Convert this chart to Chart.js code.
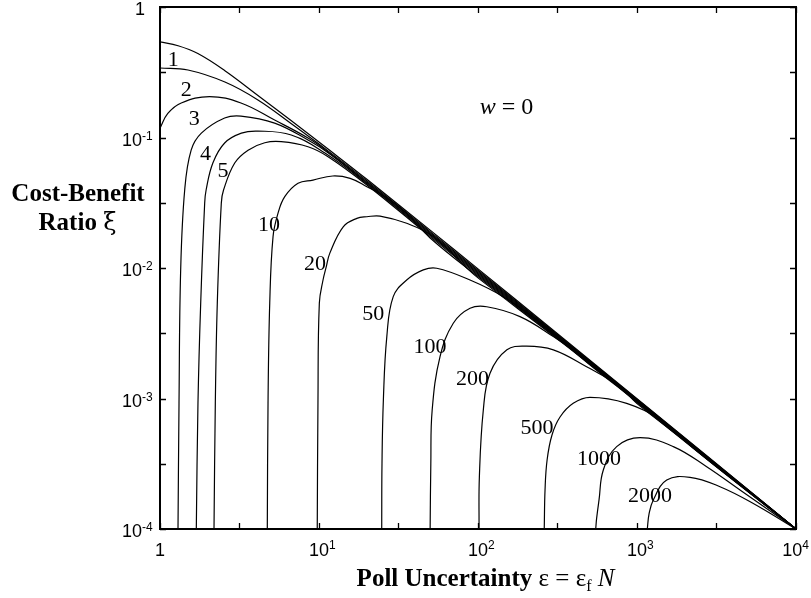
<!DOCTYPE html>
<html>
<head>
<meta charset="utf-8">
<script src="https://cdn.jsdelivr.net/npm/chart.js@4.4.1/dist/chart.umd.min.js"></script>
<style>
  html, body { margin: 0; padding: 0; background: #fff; }
</style>
</head>
<body>
<canvas id="chart" width="811" height="598"></canvas>
<script>
// =========================================
// DATA - cost-benefit ratio xi vs poll uncertainty eps (w = 0)
// =========================================

// top envelope (no label)
const epsTop = [1, 1.3, 1.73, 2.56, 4.13, 6.67, 11.4, 20, 50, 100, 300, 1000, 3000, 10000];
const xiTop = [0.54, 0.505, 0.44, 0.325, 0.21, 0.135, 0.0816, 0.0478, 0.0195, 0.00985, 0.0033, 0.000995, 0.000333, 0.0001];

const eps1 = [1, 1.5, 2.56, 4.13, 6.67, 11.4, 20, 50, 100, 300, 1000, 3000, 10000];
const xi1 = [0.341, 0.329, 0.266, 0.194, 0.128, 0.079, 0.0466, 0.0190, 0.0096, 0.00325, 0.000988, 0.000331, 0.0001];

const eps2 = [1, 1.12, 1.36, 2.05, 3.23, 5.26, 8.53, 11.4, 20, 50, 100, 300, 1000, 3000, 10000];
const xi2 = [0.118, 0.153, 0.184, 0.206, 0.184, 0.136, 0.099, 0.0775, 0.0456, 0.0186, 0.0094, 0.0032, 0.000981, 0.000329, 0.0001];

const eps3 = [1.298, 1.317, 1.349, 1.43, 1.57, 1.82, 2.55, 3.23, 5.26, 8.53, 11.4, 20, 50, 100, 300, 1000, 3000, 10000];
const xi3 = [0.0001, 0.000924, 0.00966, 0.0396, 0.080, 0.108, 0.141, 0.146, 0.129, 0.0957, 0.0765, 0.0449, 0.0182, 0.0092, 0.00316, 0.000975, 0.000327, 0.0001];

const eps4 = [1.692, 1.733, 1.803, 1.91, 1.95, 2.15, 2.55, 3.25, 4.13, 6.69, 10.9, 20, 50, 100, 300, 1000, 3000, 10000];
const xi4 = [0.0001, 0.000924, 0.0054, 0.0315, 0.0396, 0.0638, 0.0908, 0.108, 0.112, 0.1045, 0.076, 0.0442, 0.0178, 0.0090, 0.00312, 0.000968, 0.000325, 0.0001];

const eps5 = [2.186, 2.228, 2.293, 2.43, 2.51, 2.95, 3.58, 4.56, 5.79, 8.53, 11.4, 20, 50, 100, 300, 1000, 3000, 10000];
const xi5 = [0.0001, 0.000924, 0.0054, 0.0315, 0.0396, 0.0638, 0.080, 0.0912, 0.0929, 0.085, 0.0713, 0.0433, 0.0174, 0.0088, 0.00308, 0.000961, 0.000323, 0.0001];

const eps10 = [4.73, 4.78, 4.90, 5.14, 5.52, 6.09, 7.38, 9.17, 12.2, 15.7, 20, 26.7, 35.6, 50, 100, 300, 1000, 3000, 10000];
const xi10 = [0.0001, 0.000924, 0.0054, 0.0174, 0.0262, 0.0352, 0.0446, 0.0472, 0.0507, 0.0486, 0.042, 0.0345, 0.0262, 0.0170, 0.0086, 0.00304, 0.000955, 0.000321, 0.0001];

const eps20 = [9.75, 9.85, 10.05, 10.6, 11.1, 11.7, 14.2, 17.3, 20, 24.2, 35.6, 52.4, 84.9, 100, 300, 1000, 3000, 10000];
const xi20 = [0.0001, 0.000924, 0.0054, 0.00809, 0.0102, 0.013, 0.0207, 0.024, 0.0247, 0.025, 0.022, 0.0174, 0.0100, 0.0084, 0.0030, 0.000948, 0.000319, 0.0001];

const eps50 = [24.8, 24.9, 25.4, 26.7, 29.3, 35.6, 45.3, 55, 89.1, 144, 234, 500, 1000, 3000, 10000];
const xi50 = [0.0001, 0.000316, 0.000974, 0.00298, 0.00603, 0.00809, 0.00967, 0.00996, 0.00809, 0.00603, 0.00399, 0.00183, 0.00094, 0.000317, 0.0001];

const eps100 = [50, 50.5, 51.5, 57.7, 69.9, 89.1, 113.5, 183.7, 297.7, 482, 1000, 3000, 10000];
const xi100 = [0.0001, 0.000316, 0.000817, 0.00209, 0.00377, 0.00491, 0.00505, 0.00424, 0.00298, 0.00197, 0.00093, 0.000315, 0.0001];

const eps200 = [101.5, 102, 108, 119, 152, 202, 297.7, 482, 782, 996, 2250, 5000, 10000];
const xi200 = [0.0001, 0.00025, 0.000817, 0.00156, 0.00236, 0.00252, 0.00236, 0.00175, 0.00123, 0.000918, 0.000425, 0.000196, 0.0001];

const eps500 = [261, 264, 272, 292, 328, 397, 506, 861, 1396, 2250, 4017, 10000];
const xi500 = [0.0001, 0.000199, 0.000338, 0.000525, 0.000721, 0.000918, 0.00102, 0.000918, 0.000684, 0.00042, 0.000238, 0.0001];

const eps1000 = [550, 557, 577, 614, 745, 1045, 1692, 2743, 4446, 10000];
const xi1000 = [0.0001, 0.00012, 0.000167, 0.000283, 0.000428, 0.000501, 0.000428, 0.0003, 0.000199, 0.0001];

const eps2000 = [1161, 1190, 1266, 1538, 2154, 3327, 5389, 10000];
const xi2000 = [0.0001, 0.00013, 0.000167, 0.000237, 0.000249, 0.000211, 0.000157, 0.0001];

// curve labels and where they sit (data units)
const curveNames = ['1', '2', '3', '4', '5', '10', '20', '50', '100', '200', '500', '1000', '2000'];
const curveLabelAt = [
    [1.21, 0.40], [1.46, 0.239], [1.64, 0.1416], [1.93, 0.0761], [2.49, 0.0573],
    [4.85, 0.0221], [9.43, 0.0111], [21.9, 0.0046], [49.9, 0.00253], [92.3, 0.00144],
    [235, 0.000605], [577, 0.000356], [1208, 0.000184]
];
const noteAt = [151, 0.174];

// axis ticks
const xMajor = [1, 10, 100, 1000, 10000];
const xMajorExp = ['', '1', '2', '3', '4'];
const yMajor = [1, 0.1, 0.01, 0.001, 0.0001];
const yMajorExp = ['', '-1', '-2', '-3', '-4'];
const xTickMarks = [1, 3.162, 10, 31.62, 100, 316.2, 1000, 3162, 10000];
const yTickMarks = [1e-4, 3.162e-4, 1e-3, 3.162e-3, 1e-2, 3.162e-2, 0.1, 0.3162, 1];

// =========================================
// CHART
// =========================================

const curves = [
    [epsTop, xiTop], [eps1, xi1], [eps2, xi2], [eps3, xi3], [eps4, xi4], [eps5, xi5],
    [eps10, xi10], [eps20, xi20], [eps50, xi50], [eps100, xi100], [eps200, xi200],
    [eps500, xi500], [eps1000, xi1000], [eps2000, xi2000]
];

const datasets = curves.map(([xs, ys]) => ({
    data: xs.map((v, i) => ({ x: v, y: ys[i] })),
    borderColor: '#000',
    borderWidth: 1.2,
    pointRadius: 0,
    fill: false,
    tension: 0.4
}));

const SANS = '"Liberation Sans", Arial, sans-serif';
const SERIF = '"Liberation Serif", "Times New Roman", serif';

// frame, inward ticks, labels and titles
const decorations = {
    id: 'decorations',
    afterDraw(chart) {
        const { ctx, chartArea: a, scales } = chart;
        const xs = scales.x, ys = scales.y;
        ctx.save();
        ctx.strokeStyle = '#000';
        ctx.fillStyle = '#000';

        // frame
        ctx.lineWidth = 2;
        ctx.strokeRect(a.left, a.top, a.right - a.left, a.bottom - a.top);

        // tick marks on all four sides, pointing inward
        ctx.lineWidth = 1.3;
        ctx.beginPath();
        xTickMarks.forEach(v => {
            const px = Math.round(xs.getPixelForValue(v)) + 0.5;
            ctx.moveTo(px, a.bottom); ctx.lineTo(px, a.bottom - 6);
            ctx.moveTo(px, a.top); ctx.lineTo(px, a.top + 6);
        });
        yTickMarks.forEach(v => {
            const py = Math.round(ys.getPixelForValue(v)) + 0.5;
            ctx.moveTo(a.left, py); ctx.lineTo(a.left + 6, py);
            ctx.moveTo(a.right, py); ctx.lineTo(a.right - 6, py);
        });
        ctx.stroke();

        // x tick labels
        ctx.textBaseline = 'alphabetic';
        xMajor.forEach((v, i) => {
            const px = xs.getPixelForValue(v);
            const base = i === 0 ? '1' : '10';
            ctx.font = '18px ' + SANS;
            const bw = ctx.measureText(base).width;
            ctx.font = '12px ' + SANS;
            const ew = ctx.measureText(xMajorExp[i]).width;
            let left = px - bw / 2;
            if (left + bw + ew > chart.width - 2) left = chart.width - 2 - bw - ew;
            ctx.font = '18px ' + SANS;
            ctx.textAlign = 'left';
            ctx.fillText(base, left, a.bottom + 27);
            ctx.font = '12px ' + SANS;
            ctx.fillText(xMajorExp[i], left + bw, a.bottom + 20);
        });

        // y tick labels
        yMajor.forEach((v, i) => {
            const py = ys.getPixelForValue(v);
            const base = i === 0 ? '1' : '10';
            ctx.font = '18px ' + SANS;
            ctx.textAlign = 'right';
            ctx.fillText(base, i === 0 ? 145 : 142, py + 8);
            ctx.textAlign = 'left';
            ctx.font = '12px ' + SANS;
            ctx.fillText(yMajorExp[i], 142, py + 2);
        });

        // curve labels
        ctx.font = '22px ' + SERIF;
        ctx.textAlign = 'center';
        curveNames.forEach((t, i) => {
            const px = xs.getPixelForValue(curveLabelAt[i][0]);
            const py = ys.getPixelForValue(curveLabelAt[i][1]);
            ctx.fillText(t, px, py + 7.5);
        });

        // w = 0 note
        {
            const px = xs.getPixelForValue(noteAt[0]);
            const py = ys.getPixelForValue(noteAt[1]) + 8;
            ctx.font = 'italic 24px ' + SERIF;
            const w1 = ctx.measureText('w').width;
            ctx.font = '24px ' + SERIF;
            const w2 = ctx.measureText(' = 0').width;
            const x0 = px - (w1 + w2) / 2;
            ctx.textAlign = 'left';
            ctx.font = 'italic 24px ' + SERIF;
            ctx.fillText('w', x0, py);
            ctx.font = '24px ' + SERIF;
            ctx.fillText(' = 0', x0 + w1, py);
        }

        // y axis title (horizontal, two lines)
        ctx.textAlign = 'center';
        ctx.font = 'bold 25px ' + SERIF;
        ctx.fillText('Cost-Benefit', 78, 201);
        {
            ctx.font = 'bold 25px ' + SERIF;
            const w1 = ctx.measureText('Ratio ').width;
            ctx.font = '26px "DejaVu Serif", serif';
            const w2 = ctx.measureText('ξ').width;
            const x0 = 78 - (w1 + w2) / 2;
            ctx.textAlign = 'left';
            ctx.font = 'bold 25px ' + SERIF;
            ctx.fillText('Ratio ', x0, 230);
            ctx.font = '24px "DejaVu Serif", serif';
            ctx.fillText('ξ', x0 + w1, 230);
        }

        // x axis title: Poll Uncertainty ε = ε_f N
        {
            const parts = [
                ['Poll Uncertainty ', 'bold 25px ' + SERIF, 0],
                ['ε = ε', '25px ' + SERIF, 0],
                ['f', '16px ' + SERIF, 5],
                [' ', '25px ' + SERIF, 0],
                ['N', 'italic 25px ' + SERIF, 0]
            ];
            let total = 0;
            parts.forEach(p => { ctx.font = p[1]; total += ctx.measureText(p[0]).width; });
            let cx = 485.5 - total / 2;
            ctx.textAlign = 'left';
            parts.forEach(p => {
                ctx.font = p[1];
                ctx.fillText(p[0], cx, 586 + p[2]);
                cx += ctx.measureText(p[0]).width;
            });
        }
        ctx.restore();
    }
};

const chart = new Chart(document.getElementById('chart'), {
    type: 'line',
    data: { datasets },
    options: {
        responsive: false,
        animation: false,
        devicePixelRatio: 1,
        layout: { padding: { left: 160, right: 15, top: 7, bottom: 69 } },
        plugins: {
            legend: { display: false },
            tooltip: { enabled: false }
        },
        scales: {
            x: {
                type: 'logarithmic',
                min: 1,
                max: 10000,
                ticks: { display: false },
                grid: { display: false, drawTicks: false },
                border: { display: false }
            },
            y: {
                type: 'logarithmic',
                min: 0.0001,
                max: 1,
                ticks: { display: false },
                grid: { display: false, drawTicks: false },
                border: { display: false }
            }
        }
    },
    plugins: [decorations]
});
</script>
</body>
</html>
